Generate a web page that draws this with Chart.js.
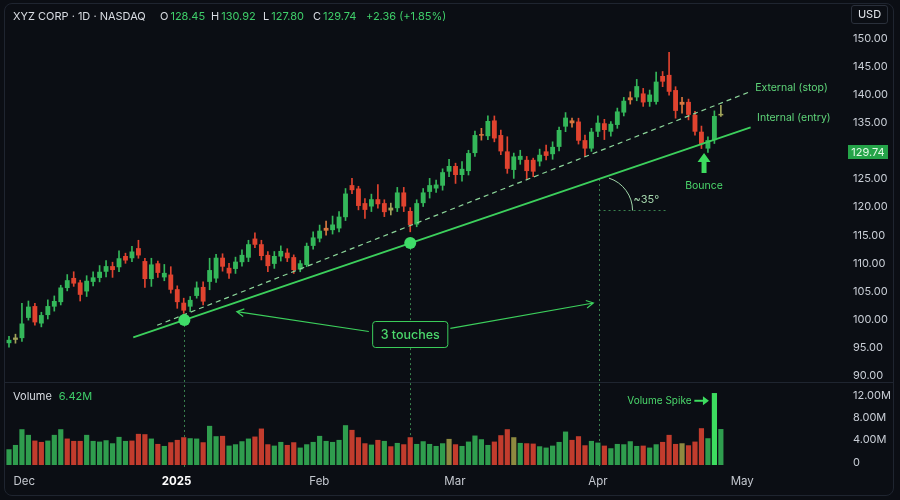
<!DOCTYPE html>
<html>
<head>
<meta charset="utf-8">
<script src="https://cdn.jsdelivr.net/npm/chart.js@4.4.1/dist/chart.umd.min.js"></script>
<style>
  html, body { margin: 0; padding: 0; background: #0b0e14; }
  #wrap { position: relative; width: 900px; height: 500px; overflow: hidden; font-family: Inter, "Noto Sans", sans-serif; }
  #chart { position: absolute; left: 0; top: 0; }
  #frame { position: absolute; left: 4px; top: 3px; width: 890px; height: 493px; box-sizing: border-box;
           border: 1px solid #1f2530; border-radius: 8px; pointer-events: none; }
  .hd { position: absolute; top: 9px; font-size: 11px; line-height: 14px; color: #d8dce2; white-space: nowrap; }
  .hd .g { color: #3fcf6a; margin-left: 2px; }
  #usd { position: absolute; left: 851px; top: 5px; width: 37px; height: 19px; box-sizing: border-box;
         border: 1px solid #2a303b; border-radius: 3px; color: #e4e7ec; font-size: 11px; line-height: 17px; text-align: center; }
</style>
</head>
<body>
<div id="wrap">
  <canvas id="chart" width="900" height="500"></canvas>
  <div id="frame"></div>
  <div class="hd" style="left:13px">XYZ CORP · 1D · NASDAQ</div>
  <div class="hd" style="left:160px">O<span class="g">128.45</span></div>
  <div class="hd" style="left:211px">H<span class="g">130.92</span></div>
  <div class="hd" style="left:263px">L<span class="g">127.80</span></div>
  <div class="hd" style="left:313px">C<span class="g">129.74</span></div>
  <div class="hd" style="left:366px"><span class="g" style="margin:0">+2.36 (+1.85%)</span></div>
  <div id="usd">USD</div>
</div>
<script>
// daily candles, one per trading day (index 0..110)
const openP = [
  95.8, 96.4, 96.7, 100.3, 102.4, 99.3, 100.8, 102.3, 103.1, 105.6,
  107.4, 106.6, 105.0, 106.7, 107.4, 108.5, 109.5, 109.3, 111.3, 110.9,
  112.7, 110.4, 107.2, 110.0, 107.5, 108.0, 105.4, 103.0, 102.3, 104.2,
  105.8, 106.7, 107.3, 111.0, 109.2, 109.0, 110.2, 111.0, 114.4, 113.4,
  111.5, 109.9, 111.2, 111.9, 111.1, 108.9, 109.7, 113.1, 114.4, 116.3,
  115.9, 116.2, 118.2, 123.9, 123.3, 120.7, 120.1, 121.4, 120.7, 119.4,
  119.8, 122.6, 119.3, 116.9, 120.7, 122.7, 123.3, 123.8, 126.3, 127.3,
  125.7, 126.4, 129.6, 132.9, 132.6, 135.4, 132.8, 129.9, 126.6, 128.4,
  128.4, 128.4, 128.1, 129.9, 129.4, 130.7, 134.3, 135.4, 135.2, 131.9,
  130.4, 133.4, 134.9, 133.4, 134.6, 136.8, 139.5, 139.5, 140.2, 138.7,
  138.7, 143.3, 143.5, 140.8, 138.7, 138.7, 136.4, 133.4, 130.4, 131.9,
  136.3
];
const highP = [
  97.0, 97.4, 102.9, 103.3, 102.9, 101.3, 103.5, 104.2, 106.1, 108.0,
  108.5, 107.0, 107.8, 108.5, 109.6, 110.5, 110.2, 112.2, 111.8, 113.0,
  114.1, 110.9, 110.9, 110.4, 109.8, 109.4, 106.0, 103.8, 104.1, 106.7,
  106.7, 110.9, 111.6, 111.7, 110.0, 111.1, 112.4, 114.1, 115.4, 114.1,
  112.1, 112.1, 113.1, 112.6, 111.5, 110.5, 113.6, 115.6, 116.8, 117.5,
  118.4, 119.2, 123.3, 125.1, 123.7, 121.5, 122.3, 124.0, 121.3, 120.7,
  123.5, 123.5, 119.9, 121.3, 123.3, 125.1, 124.8, 126.8, 128.5, 127.8,
  128.1, 130.1, 133.5, 134.0, 136.2, 136.2, 133.7, 132.5, 129.6, 130.1,
  129.0, 128.7, 130.3, 131.0, 131.6, 134.2, 136.8, 135.8, 135.8, 132.8,
  134.0, 136.2, 135.6, 135.2, 137.6, 139.5, 140.5, 142.7, 141.1, 140.8,
  144.0, 144.1, 147.5, 141.4, 139.5, 139.2, 137.0, 134.4, 132.5, 137.1,
  138.1
];
const lowP = [
  95.1, 95.8, 96.1, 99.9, 99.0, 98.7, 100.1, 101.5, 102.6, 105.1,
  105.9, 103.3, 104.1, 106.0, 106.7, 107.6, 107.5, 108.5, 110.0, 110.3,
  110.9, 105.7, 105.9, 107.5, 106.9, 104.7, 102.0, 101.1, 101.4, 103.8,
  102.6, 105.3, 106.6, 108.6, 107.3, 108.2, 109.5, 110.3, 112.8, 110.6,
  108.5, 109.1, 110.4, 110.3, 108.2, 108.5, 109.4, 112.5, 113.8, 115.0,
  115.2, 115.6, 117.6, 122.4, 119.5, 118.0, 119.2, 119.8, 118.3, 118.6,
  119.2, 119.2, 115.6, 116.5, 120.1, 121.6, 122.6, 123.0, 125.4, 124.2,
  124.6, 125.7, 129.0, 131.9, 132.0, 131.6, 129.3, 126.0, 125.1, 127.6,
  125.0, 125.4, 127.3, 128.4, 128.5, 130.0, 133.4, 134.2, 131.2, 129.0,
  129.9, 132.5, 132.0, 132.6, 134.0, 136.2, 138.3, 138.9, 137.9, 137.9,
  138.3, 141.4, 139.9, 135.8, 136.7, 135.5, 132.8, 130.4, 129.7, 131.3,
  136.1
];
const closeP = [
  96.4, 96.8, 99.3, 102.3, 99.5, 100.8, 102.4, 103.3, 105.7, 107.0,
  106.4, 104.4, 106.9, 107.5, 108.5, 109.5, 108.8, 110.9, 110.5, 112.1,
  111.4, 107.2, 109.8, 108.3, 108.3, 105.3, 103.1, 101.6, 103.5, 105.7,
  103.2, 108.8, 111.0, 109.4, 108.2, 110.3, 111.5, 113.4, 113.3, 111.3,
  109.5, 111.3, 112.2, 110.9, 108.8, 110.0, 113.1, 114.6, 115.8, 115.8,
  116.9, 118.3, 122.4, 123.0, 120.2, 119.5, 121.4, 120.5, 119.1, 119.9,
  122.6, 120.1, 116.8, 120.7, 122.6, 123.9, 124.0, 126.2, 127.3, 125.7,
  126.8, 129.6, 132.8, 132.7, 135.3, 132.2, 129.9, 126.8, 129.0, 129.1,
  126.4, 126.3, 129.3, 129.1, 130.7, 133.7, 135.9, 134.9, 131.8, 130.4,
  133.4, 135.0, 133.7, 134.8, 137.0, 138.9, 139.0, 141.5, 138.6, 140.0,
  142.3, 142.3, 140.5, 137.1, 138.2, 136.4, 133.4, 131.2, 131.9, 136.2,
  136.5
];
// volume in millions, and bar direction (u = up, d = down, n = flat)
const volumeM = [
  2.81, 3.58, 6.39, 5.38, 4.36, 4.12, 4.36, 5.38, 6.39, 4.72,
  4.30, 4.30, 5.38, 4.30, 4.18, 4.42, 3.88, 5.02, 4.30, 4.36,
  5.56, 5.50, 4.72, 3.76, 3.40, 4.06, 4.48, 4.96, 4.78, 4.72,
  4.06, 6.99, 5.14, 5.20, 3.46, 3.70, 4.24, 4.72, 5.08, 6.51,
  3.70, 3.46, 4.12, 3.58, 4.06, 3.11, 3.70, 4.12, 5.20, 4.30,
  4.12, 4.48, 7.11, 6.27, 4.96, 3.88, 3.64, 4.48, 4.30, 3.34,
  3.94, 3.70, 4.96, 3.76, 4.24, 3.76, 3.40, 3.88, 4.66, 3.70,
  3.40, 4.18, 5.26, 4.60, 3.58, 4.18, 5.32, 6.39, 4.96, 3.94,
  3.88, 3.82, 3.34, 3.11, 3.46, 4.12, 5.97, 4.48, 5.14, 3.52,
  4.30, 4.00, 3.46, 2.99, 3.76, 3.70, 4.24, 3.40, 3.46, 3.11,
  3.70, 4.12, 5.38, 3.76, 3.88, 3.52, 4.18, 6.57, 4.78, 12.85,
  6.42
];
const volDir = ("uuuudduuud" + "dduuuuuuud" + "ddududdduu" + "duuduuuudd" + "duudduuuuu" +
                "uuudddudud" + "udduuuuun" + "duuuuudddn" + "udduuuuudd" + "duuduuuuud" +
                "uudddndddu" + "uu").split("");

// month labels on the time axis (position in bar units)
const monthPos = [2.36, 25.9, 47.96, 68.9, 91.0, 113.3];
const monthNames = ["Dec", "2025", "Feb", "Mar", "Apr", "May"];
const priceTicks = [90, 95, 100, 105, 110, 115, 120, 125, 135, 140, 145, 150];
const volumeTicks = [0, 4, 8, 12];
const lastPrice = 129.74;

// trend lines: [start, end] in (bar index, price)
const internalX = [19.2, 114.6];
const internalY = [96.84, 134.18];
const externalX = [22.9, 114.5];
const externalY = [98.98, 140.51];
const touchIdx = [27.1, 62.0];
const guideIdx = [27.1, 62.0, 91.1];
const angleRef = { x: [91.1, 101.7], y: 119.48 };
const touchArrows = [
  { from: [55.6, 97.88], to: [35.2, 101.4] },
  { from: [68.2, 98.44], to: [90.3, 102.94] }
];
const touchBox = { x: 62.0, y: 97.34, text: "3 touches" };
const lineLabels = [
  { x: 115.3, y: 141.16, text: "External (stop)" },
  { x: 115.6, y: 135.88, text: "Internal (entry)" }
];
const angleLabel = { x: 98.5, y: 121.25, text: "~35°" };
const bounce = { x: 107.4, tip: 129.6, base: 126.05, textY: 123.74, text: "Bounce" };
const spike = { x: 100.5, y: 11.47, arrowX: [105.9, 108.0], text: "Volume Spike" };

const UP = "#34b75a", DOWN = "#e0432f";
const idx = openP.map((_, i) => i);
const candleColors = idx.map(i => {
  const up = closeP[i] >= openP[i];
  if (Math.abs(closeP[i] - openP[i]) < 0.6) return up ? "#a2a45a" : "#d9773f";
  return up ? UP : DOWN;
});
const maxVol = Math.max(...volumeM);
const volColors = idx.map(i => {
  if (volumeM[i] === maxVol) return "#3ddc5f";
  const d = volDir[i];
  return d === "d" ? "#c23c2d" : d === "n" ? "#8e8a40" : "#2f9d4e";
});

function internalAt(i) {
  return internalY[0] + (i - internalX[0]) * (internalY[1] - internalY[0]) / (internalX[1] - internalX[0]);
}

function chevronArrow(ctx, x1, y1, x2, y2, head) {
  const a = Math.atan2(y2 - y1, x2 - x1);
  ctx.beginPath();
  ctx.moveTo(x1, y1);
  ctx.lineTo(x2, y2);
  ctx.moveTo(x2 - head * Math.cos(a - 0.5), y2 - head * Math.sin(a - 0.5));
  ctx.lineTo(x2, y2);
  ctx.lineTo(x2 - head * Math.cos(a + 0.5), y2 - head * Math.sin(a + 0.5));
  ctx.stroke();
}

const overlay = {
  id: "overlay",
  beforeDatasetsDraw(chart) {
    const { ctx, chartArea, scales: { x, y } } = chart;
    ctx.save();
    // separator between price and volume panes
    const sy = Math.round(y.bottom) + 0.5;
    ctx.strokeStyle = "#1f2530";
    ctx.lineWidth = 1;
    ctx.beginPath();
    ctx.moveTo(4, sy);
    ctx.lineTo(894, sy);
    ctx.stroke();

    // dotted guides down from the touches
    ctx.strokeStyle = "rgba(74,170,98,0.75)";
    ctx.setLineDash([2, 3]);
    guideIdx.forEach(i => {
      const px = Math.round(x.getPixelForValue(i)) + 0.5;
      ctx.beginPath();
      ctx.moveTo(px, y.getPixelForValue(internalAt(i)));
      ctx.lineTo(px, chartArea.bottom - 2);
      ctx.stroke();
    });
    // horizontal reference for the angle
    const hy = Math.round(y.getPixelForValue(angleRef.y)) + 0.5;
    ctx.beginPath();
    ctx.moveTo(x.getPixelForValue(angleRef.x[0]), hy);
    ctx.lineTo(x.getPixelForValue(angleRef.x[1]), hy);
    ctx.stroke();
    ctx.setLineDash([]);
    // angle arc
    ctx.strokeStyle = "#9fd4a8";
    ctx.beginPath();
    ctx.arc(x.getPixelForValue(angleRef.x[0]), hy, 34, -1.26, 0);
    ctx.stroke();
    ctx.restore();
  },
  afterDatasetsDraw(chart) {
    const { ctx, scales: { x, y, yv } } = chart;
    const green = "#3ccf5c";
    ctx.save();
    ctx.textBaseline = "middle";

    // "3 touches" callout
    ctx.strokeStyle = green;
    ctx.lineWidth = 1.2;
    touchArrows.forEach(a => {
      chevronArrow(ctx, x.getPixelForValue(a.from[0]), y.getPixelForValue(a.from[1]),
        x.getPixelForValue(a.to[0]), y.getPixelForValue(a.to[1]), 8);
    });
    ctx.font = "500 12.5px Inter";
    const bx = x.getPixelForValue(touchBox.x), by = y.getPixelForValue(touchBox.y);
    const tw = ctx.measureText(touchBox.text).width;
    ctx.fillStyle = "#0b0e14";
    ctx.beginPath();
    ctx.roundRect(bx - tw / 2 - 8, by - 13, tw + 16, 26, 3);
    ctx.fill();
    ctx.lineWidth = 1;
    ctx.stroke();
    ctx.fillStyle = "#4bd86c";
    ctx.textAlign = "center";
    ctx.fillText(touchBox.text, bx, by + 0.5);

    // line labels
    ctx.font = "10.5px Inter";
    ctx.textAlign = "left";
    ctx.fillStyle = "#5fd67a";
    lineLabels.forEach(l => ctx.fillText(l.text, x.getPixelForValue(l.x), y.getPixelForValue(l.y)));

    // angle label
    ctx.textAlign = "center";
    ctx.fillStyle = "#a6d8ae";
    ctx.font = "11px Inter";
    ctx.fillText(angleLabel.text, x.getPixelForValue(angleLabel.x), y.getPixelForValue(angleLabel.y));

    // bounce arrow
    const ax = x.getPixelForValue(bounce.x);
    const tipY = y.getPixelForValue(bounce.tip), baseY = y.getPixelForValue(bounce.base);
    ctx.fillStyle = "#3ddc5f";
    ctx.beginPath();
    ctx.moveTo(ax, tipY);
    ctx.lineTo(ax + 6.5, tipY + 9);
    ctx.lineTo(ax + 2.5, tipY + 9);
    ctx.lineTo(ax + 2.5, baseY);
    ctx.lineTo(ax - 2.5, baseY);
    ctx.lineTo(ax - 2.5, tipY + 9);
    ctx.lineTo(ax - 6.5, tipY + 9);
    ctx.closePath();
    ctx.fill();
    ctx.fillStyle = "#4bd86c";
    ctx.font = "10.5px Inter";
    ctx.fillText(bounce.text, ax, y.getPixelForValue(bounce.textY));

    // volume spike note
    const vy = yv.getPixelForValue(spike.y);
    ctx.font = "10px Inter";
    ctx.fillText(spike.text, x.getPixelForValue(spike.x), vy);
    const sx1 = x.getPixelForValue(spike.arrowX[0]), sx2 = x.getPixelForValue(spike.arrowX[1]);
    ctx.strokeStyle = "#3ddc5f";
    ctx.lineWidth = 2;
    ctx.beginPath();
    ctx.moveTo(sx1, vy);
    ctx.lineTo(sx2 - 4, vy);
    ctx.stroke();
    ctx.beginPath();
    ctx.moveTo(sx2 + 1, vy);
    ctx.lineTo(sx2 - 5, vy - 4.5);
    ctx.lineTo(sx2 - 5, vy + 4.5);
    ctx.closePath();
    ctx.fillStyle = "#3ddc5f";
    ctx.fill();

    // volume pane title
    ctx.textAlign = "left";
    ctx.font = "11px Inter";
    ctx.fillStyle = "#d8dce2";
    ctx.fillText("Volume", 13, yv.top + 15);
    const w = ctx.measureText("Volume").width;
    ctx.fillStyle = "#3fcf6a";
    ctx.fillText(volumeM[volumeM.length - 1].toFixed(2) + "M", 13 + w + 7, yv.top + 15);
    ctx.restore();
  },
  afterDraw(chart) {
    const { ctx, scales: { y } } = chart;
    const py = Math.round(y.getPixelForValue(lastPrice));
    ctx.save();
    ctx.fillStyle = "#25a449";
    ctx.fillRect(848, py - 7, 40, 14);
    ctx.fillStyle = "#e4fbe8";
    ctx.font = "11px Inter";
    ctx.textAlign = "center";
    ctx.textBaseline = "middle";
    ctx.fillText(lastPrice.toFixed(2), 868, py + 0.5);
    ctx.restore();
  }
};

Chart.defaults.font.family = "Inter, 'Noto Sans', sans-serif";
Chart.defaults.color = "#c9ced6";

new Chart(document.getElementById("chart"), {
  type: "bar",
  data: {
    datasets: [
      {
        type: "line", label: "Internal (entry)", order: 0,
        data: internalX.map((v, i) => ({ x: v, y: internalY[i] })),
        borderColor: "#3ccf5c", borderWidth: 1.8, pointRadius: 0, yAxisID: "y"
      },
      {
        type: "line", label: "External (stop)", order: 0,
        data: externalX.map((v, i) => ({ x: v, y: externalY[i] })),
        borderColor: "#8cd69a", borderWidth: 1.2, borderDash: [5, 4], pointRadius: 0, yAxisID: "y"
      },
      {
        type: "line", label: "Touches", order: -1, showLine: false,
        data: touchIdx.map(v => ({ x: v, y: internalAt(v) })),
        pointRadius: 6, pointBackgroundColor: "#3fdc68", pointBorderWidth: 0, yAxisID: "y"
      },
      {
        label: "Body", order: 1, grouped: false, yAxisID: "y",
        data: idx.map(i => ({ x: i, y: [openP[i], closeP[i]] })),
        backgroundColor: candleColors, barPercentage: 0.75, categoryPercentage: 1, minBarLength: 1.5
      },
      {
        label: "Wick", order: 2, grouped: false, yAxisID: "y",
        data: idx.map(i => ({ x: i, y: [lowP[i], highP[i]] })),
        backgroundColor: candleColors, barThickness: 1
      },
      {
        label: "Volume", order: 3, grouped: false, yAxisID: "yv",
        data: idx.map(i => ({ x: i, y: volumeM[i] })),
        backgroundColor: volColors, barPercentage: 0.8, categoryPercentage: 1
      }
    ]
  },
  options: {
    responsive: false,
    animation: false,
    devicePixelRatio: 1,
    layout: { autoPadding: false, padding: { top: 30, left: 0, right: 0, bottom: 0 } },
    plugins: { legend: { display: false }, tooltip: { enabled: false } },
    scales: {
      x: {
        type: "linear", min: -1.39, max: 128.1, offset: false,
        grid: { display: false, drawTicks: false }, border: { display: false },
        afterBuildTicks: s => { s.ticks = monthPos.map(v => ({ value: v })); },
        afterFit: s => { s.height = 30; s.paddingLeft = 0; s.paddingRight = 0; },
        ticks: {
          autoSkip: false, maxRotation: 0, padding: 5,
          callback: (v, i) => monthNames[i],
          color: c => c.index === 1 ? "#ffffff" : "#c4c8cf",
          font: c => ({ size: 11.5, weight: c.index === 1 ? "bold" : "normal" })
        }
      },
      y: {
        type: "linear", position: "right", stack: "panes", stackWeight: 4,
        min: 88.9, max: 151.48, beginAtZero: false,
        grid: { display: false, drawTicks: false }, border: { display: false },
        afterBuildTicks: s => { s.ticks = priceTicks.map(v => ({ value: v })); },
        afterFit: s => { s.width = 62; },
        ticks: { autoSkip: false, padding: 15, font: { size: 11 }, color: "#c9ced6", callback: v => v.toFixed(2) }
      },
      yv: {
        type: "linear", position: "right", stack: "panes", stackWeight: 1,
        min: -0.893, max: 14.82, beginAtZero: false,
        grid: { display: false, drawTicks: false }, border: { display: false },
        afterBuildTicks: s => { s.ticks = volumeTicks.map(v => ({ value: v })); },
        afterFit: s => { s.width = 62; },
        ticks: {
          autoSkip: false, padding: 15, labelOffset: -2.5, font: { size: 11 }, color: "#c9ced6",
          callback: v => v === 0 ? "0" : v.toFixed(2) + "M"
        }
      }
    }
  },
  plugins: [overlay]
});
</script>
</body>
</html>
